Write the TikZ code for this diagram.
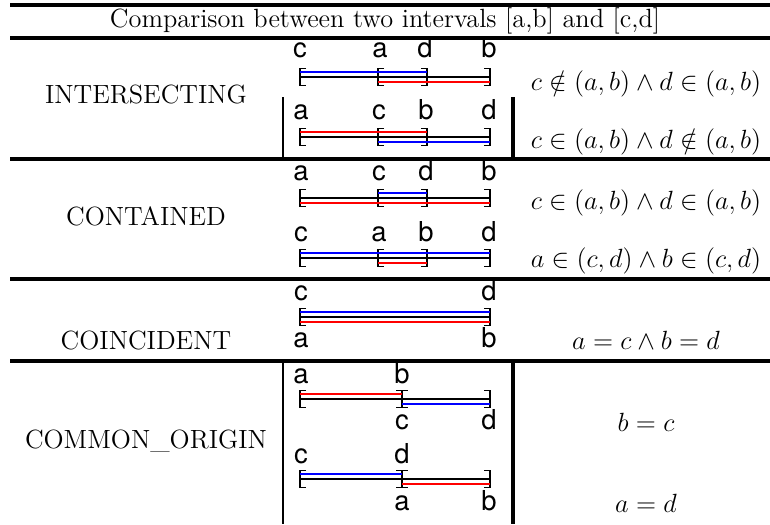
\documentclass[tikz,border=0pt]{standalone}
\usepackage{fontspec}
\newfontfamily\labelfont{TeX Gyre Heros}
\usetikzlibrary{positioning}
\definecolor{ivblue}{HTML}{0000FF}
\definecolor{ivred}{HTML}{FF0000}
\tikzset{
  heading/.style={font=\large,anchor=base,inner sep=0pt},
  casename/.style={font=\large,anchor=base,inner sep=0pt},
  cond/.style={font=\large,anchor=base,inner sep=0pt},
  pt/.style={font=\labelfont\fontsize{12.5}{14}\selectfont,anchor=base,inner sep=0pt},
  rule/.style={line width=1.4pt},
  vrule/.style={line width=1.1pt},
  span/.style={line width=0.5pt},
  brk/.style={line width=0.6pt},
  ivb/.style={draw=ivblue,line width=0.9pt},
  ivr/.style={draw=ivred,line width=0.9pt}
}
% brackets at (x,y) of the black line
\newcommand\lbrk[2]{\draw[brk] (#1+6,#2-8.5) -- (#1,#2-8.5) -- (#1,#2+8.5) -- (#1+6,#2+8.5);}
\newcommand\rbrk[2]{\draw[brk] (#1-6,#2-8.5) -- (#1,#2-8.5) -- (#1,#2+8.5) -- (#1-6,#2+8.5);}
\newcommand\ibrk[2]{\draw[brk] (#1-6,#2-8.5) -- (#1+6,#2-8.5) (#1,#2-8.5) -- (#1,#2+8.5) (#1-6,#2+8.5) -- (#1+6,#2+8.5);}

\begin{document}
\begin{tikzpicture}[x=0.016cm,y=-0.016cm]
\path[use as bounding box] (0,0) rectangle (770,524);
\node[heading] (title) at (385,27) {Comparison between two intervals [a,b] and [c,d]};
\draw[rule] (10,5)--(770,5);
\draw[rule] (10,38)--(770,38);
\draw[rule] (10,159)--(770,159);
\draw[rule] (10,279)--(770,279);
\draw[rule] (10,361)--(770,361);
\draw[vrule] (283,97)--(283,159);
\draw[vrule,line width=1.6pt] (513,97)--(513,159);
\draw[vrule] (283,361)--(283,524);
\draw[vrule,line width=1.6pt] (513,361)--(513,524);

% case names
\node[casename] (inter) at (146,103) {INTERSECTING};
\node[casename] (cont) at (146,225) {CONTAINED};
\node[casename] (coinc) at (146,349) {COINCIDENT};
\node[casename] (corig) at (146,448) {COMMON\_ORIGIN};

% conditions
\node[cond] (f1) at (646,90) {$c\notin(a,b)\wedge d\in(a,b)$};
\node[cond] (f2) at (646,148) {$c\in(a,b)\wedge d\notin(a,b)$};
\node[cond] (f3) at (646,209) {$c\in(a,b)\wedge d\in(a,b)$};
\node[cond] (f4) at (646,267) {$a\in(c,d)\wedge b\in(c,d)$};
\node[cond] (f5) at (646,349) {$a=c\wedge b=d$};
\node[cond] (f6) at (646,431) {$b=c$};
\node[cond] (f7) at (646,512) {$a=d$};

% intersecting 1
\node[pt] (i1c) at (300,57) {c};
\node[pt] (i1a) at (380,57) {a};
\node[pt] (i1d) at (425,57) {d};
\node[pt] (i1b) at (489,57) {b};
\lbrk{300}{77}\lbrk{378}{77}\rbrk{427}{77}\rbrk{490}{77}
\draw[span] (300,77)--(490,77);
\draw[ivb] (300,72)--(427,72);
\draw[ivr] (378,82)--(490,82);

% intersecting 2
\node[pt] (i2a) at (301,119) {a};
\node[pt] (i2c) at (379,119) {c};
\node[pt] (i2b) at (426,119) {b};
\node[pt] (i2d) at (489,119) {d};
\lbrk{300}{137}\lbrk{378}{137}\rbrk{427}{137}\rbrk{490}{137}
\draw[span] (300,137)--(490,137);
\draw[ivr] (300,132)--(427,132);
\draw[ivb] (378,142)--(490,142);

% contained 1
\node[pt] (c1a) at (301,180) {a};
\node[pt] (c1c) at (379,180) {c};
\node[pt] (c1d) at (426,180) {d};
\node[pt] (c1b) at (489,180) {b};
\lbrk{300}{198}\lbrk{378}{198}\rbrk{427}{198}\rbrk{490}{198}
\draw[span] (300,198)--(490,198);
\draw[ivb] (378,193)--(427,193);
\draw[ivr] (300,203)--(490,203);

% contained 2
\node[pt] (c2c) at (301,241) {c};
\node[pt] (c2a) at (379,241) {a};
\node[pt] (c2b) at (426,241) {b};
\node[pt] (c2d) at (489,241) {d};
\lbrk{300}{258}\lbrk{378}{258}\rbrk{427}{258}\rbrk{490}{258}
\draw[span] (300,258)--(490,258);
\draw[ivb] (300,253)--(490,253);
\draw[ivr] (378,263)--(427,263);

% coincident
\node[pt] (k1c) at (301,300) {c};
\node[pt] (k1d) at (489,300) {d};
\node[pt] (k1a) at (301,347) {a};
\node[pt] (k1b) at (489,347) {b};
\lbrk{300}{317}\rbrk{490}{317}
\draw[span] (300,317)--(490,317);
\draw[ivb] (300,312)--(490,312);
\draw[ivr] (300,322)--(490,322);

% common origin 1
\node[pt] (o1a) at (301,383) {a};
\node[pt] (o1b) at (402,383) {b};
\node[pt] (o1c) at (402,429) {c};
\node[pt] (o1d) at (489,429) {d};
\lbrk{300}{399}\ibrk{402}{399}\rbrk{490}{399}
\draw[span] (300,399)--(490,399);
\draw[ivr] (300,394)--(402,394);
\draw[ivb] (402,404)--(490,404);

% common origin 2
\node[pt] (o2c) at (301,463) {c};
\node[pt] (o2d) at (402,463) {d};
\node[pt] (o2a) at (402,510) {a};
\node[pt] (o2b) at (489,510) {b};
\lbrk{300}{479}\ibrk{402}{479}\rbrk{490}{479}
\draw[span] (300,479)--(490,479);
\draw[ivb] (300,474)--(402,474);
\draw[ivr] (402,484)--(490,484);
\end{tikzpicture}
\end{document}
